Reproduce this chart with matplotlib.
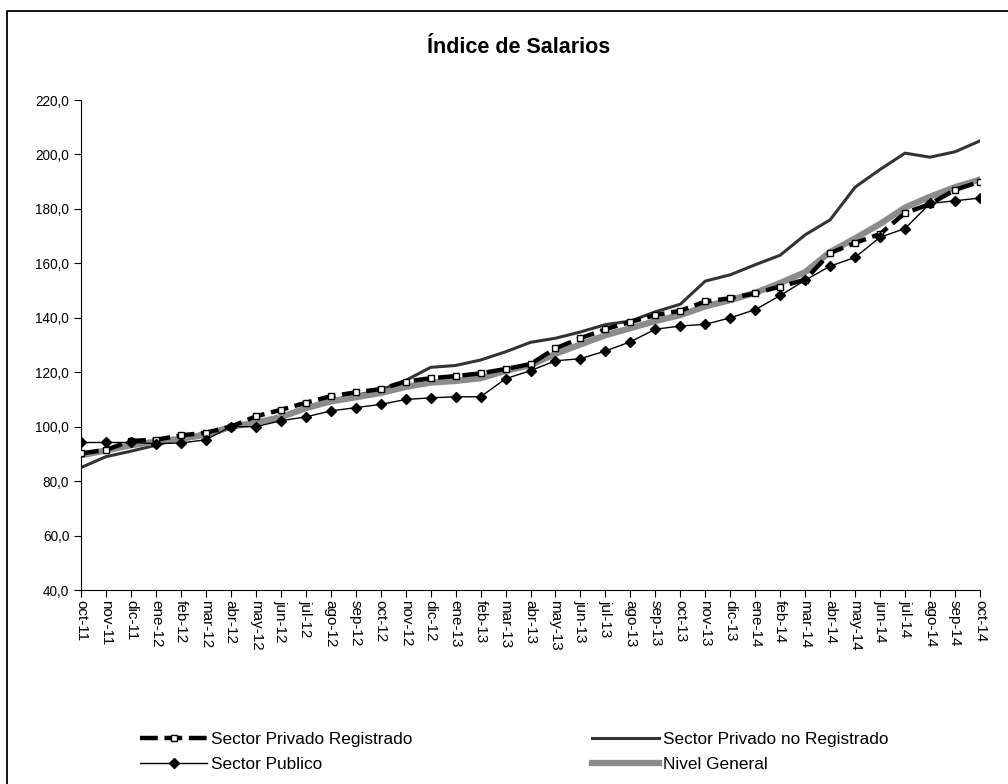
import matplotlib.pyplot as plt
from matplotlib.lines import Line2D

plt.rcParams['font.family'] = ['Liberation Sans', 'DejaVu Sans']

meses = ["oct-11", "nov-11", "dic-11", "ene-12", "feb-12", "mar-12", "abr-12", "may-12",
         "jun-12", "jul-12", "ago-12", "sep-12", "oct-12", "nov-12", "dic-12", "ene-13",
         "feb-13", "mar-13", "abr-13", "may-13", "jun-13", "jul-13", "ago-13", "sep-13",
         "oct-13", "nov-13", "dic-13", "ene-14", "feb-14", "mar-14", "abr-14", "may-14",
         "jun-14", "jul-14", "ago-14", "sep-14", "oct-14"]

privado_registrado = [90.2, 91.5, 94.8, 95.2, 96.8, 97.8, 100.0, 103.8, 106.2, 108.8, 111.2, 112.6, 113.8,
                      116.6, 117.8, 118.6, 119.6, 121.2, 123.0, 128.8, 132.5, 135.8, 138.5, 141.0, 142.6,
                      146.0, 147.2, 149.0, 151.5, 154.0, 163.8, 167.5, 170.8, 178.5, 181.8, 187.0, 190.0]

privado_no_registrado = [85.0, 89.0, 91.0, 93.2, 95.8, 97.8, 100.0, 101.2, 103.0, 106.8, 109.8, 111.5, 113.5,
                         117.0, 121.8, 122.5, 124.5, 127.5, 131.0, 132.5, 134.8, 137.5, 138.8, 142.2, 145.0,
                         153.5, 155.8, 159.5, 163.0, 170.5, 176.0, 188.0, 194.5, 200.5, 199.0, 201.0, 205.0]

publico = [94.2, 94.2, 94.2, 93.8, 94.0, 95.2, 100.0, 100.0, 102.2, 103.6, 105.8, 107.0, 108.2,
           110.0, 110.6, 111.0, 111.0, 117.6, 120.6, 124.2, 125.0, 127.8, 131.2, 135.8, 137.0,
           137.6, 140.0, 143.0, 148.2, 153.8, 159.0, 162.2, 169.6, 172.8, 182.0, 183.0, 184.0]

nivel_general = [89.5, 91.3, 93.2, 94.5, 95.6, 97.0, 100.0, 101.5, 103.5, 106.8, 109.3, 110.8, 112.4,
                 114.6, 116.2, 116.8, 117.8, 120.5, 122.6, 126.8, 130.2, 133.6, 136.2, 138.8, 141.0,
                 144.2, 146.5, 149.2, 152.8, 156.8, 164.2, 169.2, 174.5, 180.5, 184.5, 188.0, 190.8]

x = list(range(len(meses)))

fig = plt.figure(figsize=(10.08, 7.84), dpi=100)
ax = fig.add_axes([0.0804, 0.2474, 0.8918, 0.625])

# marco de la figura (solo arriba e izquierda, como en la imagen recortada)
fig.lines.append(Line2D([0.007, 0.007, 1.0], [0.0, 0.986, 0.986], transform=fig.transFigure,
                        color='black', linewidth=1.3))

l1, = ax.plot(x, privado_registrado, color='black', linewidth=3.2, linestyle=(0, (4, 1.5)),
              marker='s', markersize=4.5, markerfacecolor='white', markeredgecolor='black',
              markeredgewidth=1.0, label='Sector Privado Registrado', zorder=3)
l2, = ax.plot(x, publico, color='black', linewidth=1.0, marker='D', markersize=5.5,
              markerfacecolor='black', label='Sector Publico', zorder=4)
l3, = ax.plot(x, privado_no_registrado, color='#333333', linewidth=2.2,
              label='Sector Privado no Registrado', zorder=2)
l4, = ax.plot(x, nivel_general, color='#8c8c8c', linewidth=4.5,
              label='Nivel General', zorder=2.5)

ax.set_xlim(0, len(meses) - 1)
ax.set_ylim(40, 220)
ax.set_yticks(range(40, 221, 20))
ax.set_yticklabels([f"{v},0" for v in range(40, 221, 20)], fontsize=9.8)
ax.set_xticks(x)
ax.set_xticklabels(meses, rotation=-90, fontsize=11)
ax.tick_params(axis='both', direction='out', length=5, width=0.8, color='black')
ax.tick_params(axis='x', pad=2)

ax.spines['top'].set_visible(False)
ax.spines['right'].set_visible(False)
ax.spines['left'].set_linewidth(0.8)
ax.spines['bottom'].set_linewidth(0.8)

fig.text(519 / 1008, 0.940, "Índice de Salarios", ha='center', va='center',
         fontsize=15.5, fontweight='bold')

leg_kw = dict(loc='upper left', frameon=False, fontsize=12.4, handlelength=3.9,
              handletextpad=0.25, labelspacing=0.55, borderpad=0, borderaxespad=0)
fig.legend(handles=[l1, l2], bbox_to_anchor=(140 / 1008, 0.066), **leg_kw)
fig.legend(handles=[l3, l4], bbox_to_anchor=(592 / 1008, 0.066), **leg_kw)

fig.savefig("out.png", dpi=100)
